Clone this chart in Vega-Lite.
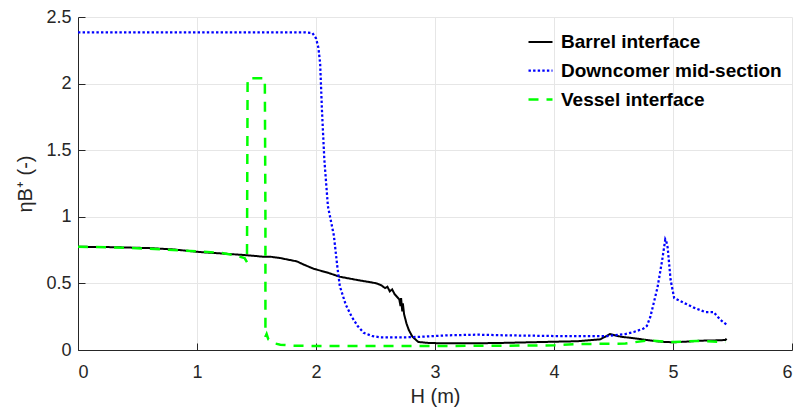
{
  "$schema": "https://vega.github.io/schema/vega-lite/v6.json",
  "autosize": {"type": "none"},
  "padding": {"left": 78, "top": 17, "right": 6, "bottom": 61},
  "width": 714,
  "height": 333,
  "background": "white",
  "config": {
    "font": "Liberation Sans",
    "view": {"stroke": null},
    "axis": {
      "domainColor": "#262626",
      "tickColor": "#262626",
      "tickSize": -7,
      "labelColor": "#262626",
      "labelFont": "Liberation Sans",
      "labelFontSize": 18,
      "titleFont": "Liberation Sans",
      "titleFontSize": 20,
      "titleFontWeight": "normal",
      "titleColor": "#262626",
      "gridColor": "#e6e6e6",
      "gridWidth": 1
    }
  },
  "data": {
    "values": [
      {"s": "Barrel interface", "i": 0, "H": 0, "eta": 0.775},
      {"s": "Barrel interface", "i": 1, "H": 0.3, "eta": 0.772},
      {"s": "Barrel interface", "i": 2, "H": 0.6, "eta": 0.765},
      {"s": "Barrel interface", "i": 3, "H": 0.8, "eta": 0.755},
      {"s": "Barrel interface", "i": 4, "H": 1.03, "eta": 0.735},
      {"s": "Barrel interface", "i": 5, "H": 1.2, "eta": 0.725},
      {"s": "Barrel interface", "i": 6, "H": 1.365, "eta": 0.715},
      {"s": "Barrel interface", "i": 7, "H": 1.5, "eta": 0.705},
      {"s": "Barrel interface", "i": 8, "H": 1.56, "eta": 0.7},
      {"s": "Barrel interface", "i": 9, "H": 1.62, "eta": 0.7},
      {"s": "Barrel interface", "i": 10, "H": 1.7, "eta": 0.69},
      {"s": "Barrel interface", "i": 11, "H": 1.84, "eta": 0.665},
      {"s": "Barrel interface", "i": 12, "H": 1.9, "eta": 0.64},
      {"s": "Barrel interface", "i": 13, "H": 1.98, "eta": 0.61},
      {"s": "Barrel interface", "i": 14, "H": 2.1, "eta": 0.58},
      {"s": "Barrel interface", "i": 15, "H": 2.2, "eta": 0.55},
      {"s": "Barrel interface", "i": 16, "H": 2.35, "eta": 0.525},
      {"s": "Barrel interface", "i": 17, "H": 2.45, "eta": 0.51},
      {"s": "Barrel interface", "i": 18, "H": 2.51, "eta": 0.5},
      {"s": "Barrel interface", "i": 19, "H": 2.55, "eta": 0.485},
      {"s": "Barrel interface", "i": 20, "H": 2.58, "eta": 0.465},
      {"s": "Barrel interface", "i": 21, "H": 2.6, "eta": 0.475},
      {"s": "Barrel interface", "i": 22, "H": 2.62, "eta": 0.44},
      {"s": "Barrel interface", "i": 23, "H": 2.64, "eta": 0.455},
      {"s": "Barrel interface", "i": 24, "H": 2.66, "eta": 0.42},
      {"s": "Barrel interface", "i": 25, "H": 2.68, "eta": 0.4},
      {"s": "Barrel interface", "i": 26, "H": 2.7, "eta": 0.38},
      {"s": "Barrel interface", "i": 27, "H": 2.71, "eta": 0.33},
      {"s": "Barrel interface", "i": 28, "H": 2.715, "eta": 0.39},
      {"s": "Barrel interface", "i": 29, "H": 2.725, "eta": 0.29},
      {"s": "Barrel interface", "i": 30, "H": 2.73, "eta": 0.35},
      {"s": "Barrel interface", "i": 31, "H": 2.74, "eta": 0.27},
      {"s": "Barrel interface", "i": 32, "H": 2.76, "eta": 0.2},
      {"s": "Barrel interface", "i": 33, "H": 2.78, "eta": 0.15},
      {"s": "Barrel interface", "i": 34, "H": 2.81, "eta": 0.1},
      {"s": "Barrel interface", "i": 35, "H": 2.86, "eta": 0.06},
      {"s": "Barrel interface", "i": 36, "H": 2.96, "eta": 0.052},
      {"s": "Barrel interface", "i": 37, "H": 3.2, "eta": 0.05},
      {"s": "Barrel interface", "i": 38, "H": 3.5, "eta": 0.052},
      {"s": "Barrel interface", "i": 39, "H": 3.8, "eta": 0.058},
      {"s": "Barrel interface", "i": 40, "H": 4.0, "eta": 0.062},
      {"s": "Barrel interface", "i": 41, "H": 4.2, "eta": 0.066},
      {"s": "Barrel interface", "i": 42, "H": 4.39, "eta": 0.08},
      {"s": "Barrel interface", "i": 43, "H": 4.47, "eta": 0.12},
      {"s": "Barrel interface", "i": 44, "H": 4.56, "eta": 0.1},
      {"s": "Barrel interface", "i": 45, "H": 4.7, "eta": 0.085},
      {"s": "Barrel interface", "i": 46, "H": 4.78, "eta": 0.075},
      {"s": "Barrel interface", "i": 47, "H": 4.9, "eta": 0.062},
      {"s": "Barrel interface", "i": 48, "H": 5.0, "eta": 0.058},
      {"s": "Barrel interface", "i": 49, "H": 5.1, "eta": 0.062},
      {"s": "Barrel interface", "i": 50, "H": 5.23, "eta": 0.07},
      {"s": "Barrel interface", "i": 51, "H": 5.35, "eta": 0.072},
      {"s": "Barrel interface", "i": 52, "H": 5.44, "eta": 0.075},
      {"s": "Barrel interface", "i": 53, "H": 5.45, "eta": 0.085},

      {"s": "Downcomer mid-section", "i": 0, "H": 0, "eta": 2.385},
      {"s": "Downcomer mid-section", "i": 1, "H": 1.9, "eta": 2.385},
      {"s": "Downcomer mid-section", "i": 2, "H": 1.97, "eta": 2.38},
      {"s": "Downcomer mid-section", "i": 3, "H": 2.0, "eta": 2.34},
      {"s": "Downcomer mid-section", "i": 4, "H": 2.02, "eta": 2.27},
      {"s": "Downcomer mid-section", "i": 5, "H": 2.035, "eta": 2.15},
      {"s": "Downcomer mid-section", "i": 6, "H": 2.05, "eta": 1.8},
      {"s": "Downcomer mid-section", "i": 7, "H": 2.07, "eta": 1.43},
      {"s": "Downcomer mid-section", "i": 8, "H": 2.1, "eta": 1.08},
      {"s": "Downcomer mid-section", "i": 9, "H": 2.15, "eta": 0.86},
      {"s": "Downcomer mid-section", "i": 10, "H": 2.18, "eta": 0.62},
      {"s": "Downcomer mid-section", "i": 11, "H": 2.2, "eta": 0.48},
      {"s": "Downcomer mid-section", "i": 12, "H": 2.25, "eta": 0.34},
      {"s": "Downcomer mid-section", "i": 13, "H": 2.3, "eta": 0.25},
      {"s": "Downcomer mid-section", "i": 14, "H": 2.35, "eta": 0.18},
      {"s": "Downcomer mid-section", "i": 15, "H": 2.4, "eta": 0.13},
      {"s": "Downcomer mid-section", "i": 16, "H": 2.47, "eta": 0.105},
      {"s": "Downcomer mid-section", "i": 17, "H": 2.54, "eta": 0.095},
      {"s": "Downcomer mid-section", "i": 18, "H": 2.74, "eta": 0.095},
      {"s": "Downcomer mid-section", "i": 19, "H": 2.9, "eta": 0.1},
      {"s": "Downcomer mid-section", "i": 20, "H": 3.1, "eta": 0.11},
      {"s": "Downcomer mid-section", "i": 21, "H": 3.36, "eta": 0.115},
      {"s": "Downcomer mid-section", "i": 22, "H": 3.6, "eta": 0.11},
      {"s": "Downcomer mid-section", "i": 23, "H": 4.0, "eta": 0.105},
      {"s": "Downcomer mid-section", "i": 24, "H": 4.45, "eta": 0.105},
      {"s": "Downcomer mid-section", "i": 25, "H": 4.6, "eta": 0.12},
      {"s": "Downcomer mid-section", "i": 26, "H": 4.67, "eta": 0.135},
      {"s": "Downcomer mid-section", "i": 27, "H": 4.75, "eta": 0.16},
      {"s": "Downcomer mid-section", "i": 28, "H": 4.78, "eta": 0.18},
      {"s": "Downcomer mid-section", "i": 29, "H": 4.81, "eta": 0.25},
      {"s": "Downcomer mid-section", "i": 30, "H": 4.84, "eta": 0.36},
      {"s": "Downcomer mid-section", "i": 31, "H": 4.87, "eta": 0.47},
      {"s": "Downcomer mid-section", "i": 32, "H": 4.91, "eta": 0.68},
      {"s": "Downcomer mid-section", "i": 33, "H": 4.935, "eta": 0.83},
      {"s": "Downcomer mid-section", "i": 34, "H": 4.945, "eta": 0.81},
      {"s": "Downcomer mid-section", "i": 35, "H": 4.955, "eta": 0.77},
      {"s": "Downcomer mid-section", "i": 36, "H": 4.98, "eta": 0.525},
      {"s": "Downcomer mid-section", "i": 37, "H": 5.01, "eta": 0.39},
      {"s": "Downcomer mid-section", "i": 38, "H": 5.1, "eta": 0.35},
      {"s": "Downcomer mid-section", "i": 39, "H": 5.17, "eta": 0.32},
      {"s": "Downcomer mid-section", "i": 40, "H": 5.27, "eta": 0.285},
      {"s": "Downcomer mid-section", "i": 41, "H": 5.34, "eta": 0.285},
      {"s": "Downcomer mid-section", "i": 42, "H": 5.4, "eta": 0.225},
      {"s": "Downcomer mid-section", "i": 43, "H": 5.45, "eta": 0.19},

      {"s": "Vessel interface", "i": 0, "H": 0, "eta": 0.775},
      {"s": "Vessel interface", "i": 1, "H": 0.3, "eta": 0.77},
      {"s": "Vessel interface", "i": 2, "H": 0.6, "eta": 0.76},
      {"s": "Vessel interface", "i": 3, "H": 0.9, "eta": 0.745},
      {"s": "Vessel interface", "i": 4, "H": 1.2, "eta": 0.73},
      {"s": "Vessel interface", "i": 5, "H": 1.32, "eta": 0.71},
      {"s": "Vessel interface", "i": 6, "H": 1.4, "eta": 0.69},
      {"s": "Vessel interface", "i": 7, "H": 1.42, "eta": 0.66},
      {"s": "Vessel interface", "i": 8, "H": 1.425, "eta": 2.0},
      {"s": "Vessel interface", "i": 9, "H": 1.43, "eta": 2.04},
      {"s": "Vessel interface", "i": 10, "H": 1.57, "eta": 2.04},
      {"s": "Vessel interface", "i": 11, "H": 1.575, "eta": 1.0},
      {"s": "Vessel interface", "i": 12, "H": 1.575, "eta": 0.1},
      {"s": "Vessel interface", "i": 13, "H": 1.585, "eta": 0.12},
      {"s": "Vessel interface", "i": 14, "H": 1.6, "eta": 0.08},
      {"s": "Vessel interface", "i": 15, "H": 1.65, "eta": 0.05},
      {"s": "Vessel interface", "i": 16, "H": 1.7, "eta": 0.04},
      {"s": "Vessel interface", "i": 17, "H": 1.8, "eta": 0.033},
      {"s": "Vessel interface", "i": 18, "H": 2.0, "eta": 0.03},
      {"s": "Vessel interface", "i": 19, "H": 2.5, "eta": 0.03},
      {"s": "Vessel interface", "i": 20, "H": 3.0, "eta": 0.03},
      {"s": "Vessel interface", "i": 21, "H": 3.5, "eta": 0.032},
      {"s": "Vessel interface", "i": 22, "H": 4.0, "eta": 0.035},
      {"s": "Vessel interface", "i": 23, "H": 4.22, "eta": 0.045},
      {"s": "Vessel interface", "i": 24, "H": 4.6, "eta": 0.048},
      {"s": "Vessel interface", "i": 25, "H": 4.78, "eta": 0.072},
      {"s": "Vessel interface", "i": 26, "H": 5.0, "eta": 0.06},
      {"s": "Vessel interface", "i": 27, "H": 5.2, "eta": 0.068},
      {"s": "Vessel interface", "i": 28, "H": 5.44, "eta": 0.06}
    ]
  },
  "mark": {"type": "line", "strokeCap": "butt", "clip": true},
  "encoding": {
    "x": {
      "field": "H",
      "type": "quantitative",
      "title": "H (m)",
      "scale": {"domain": [0, 6], "nice": false},
      "axis": {"values": [0, 1, 2, 3, 4, 5, 6], "grid": true, "labelPadding": 20, "titlePadding": 5, "format": "d"}
    },
    "y": {
      "field": "eta",
      "type": "quantitative",
      "title": "ηB⁺ (-)",
      "scale": {"domain": [0, 2.5], "nice": false},
      "axis": {"values": [0, 0.5, 1, 1.5, 2, 2.5], "grid": true, "labelPadding": 14, "titlePadding": 10, "format": "~g"}
    },
    "order": {"field": "i", "type": "quantitative"},
    "color": {
      "field": "s",
      "type": "nominal",
      "scale": {
        "domain": ["Barrel interface", "Downcomer mid-section", "Vessel interface"],
        "range": ["#000000", "#0000ff", "#00ff00"]
      },
      "legend": {
        "title": null,
        "orient": "none",
        "legendX": 449,
        "legendY": 12,
        "symbolType": "stroke",
        "symbolSize": 576,
        "symbolStrokeWidth": 2,
        "labelFont": "Liberation Sans",
        "labelFontSize": 19,
        "labelFontWeight": "bold",
        "labelColor": "#000000",
        "labelOffset": 7,
        "rowPadding": 5,
        "labelLimit": 400
      }
    },
    "strokeDash": {
      "field": "s",
      "type": "nominal",
      "scale": {
        "domain": ["Barrel interface", "Downcomer mid-section", "Vessel interface"],
        "range": [[1, 0], [2.4, 2.2], [10, 8]]
      },
      "legend": null
    },
    "strokeWidth": {
      "field": "s",
      "type": "nominal",
      "scale": {
        "domain": ["Barrel interface", "Downcomer mid-section", "Vessel interface"],
        "range": [2, 2.5, 2]
      },
      "legend": null
    }
  }
}
